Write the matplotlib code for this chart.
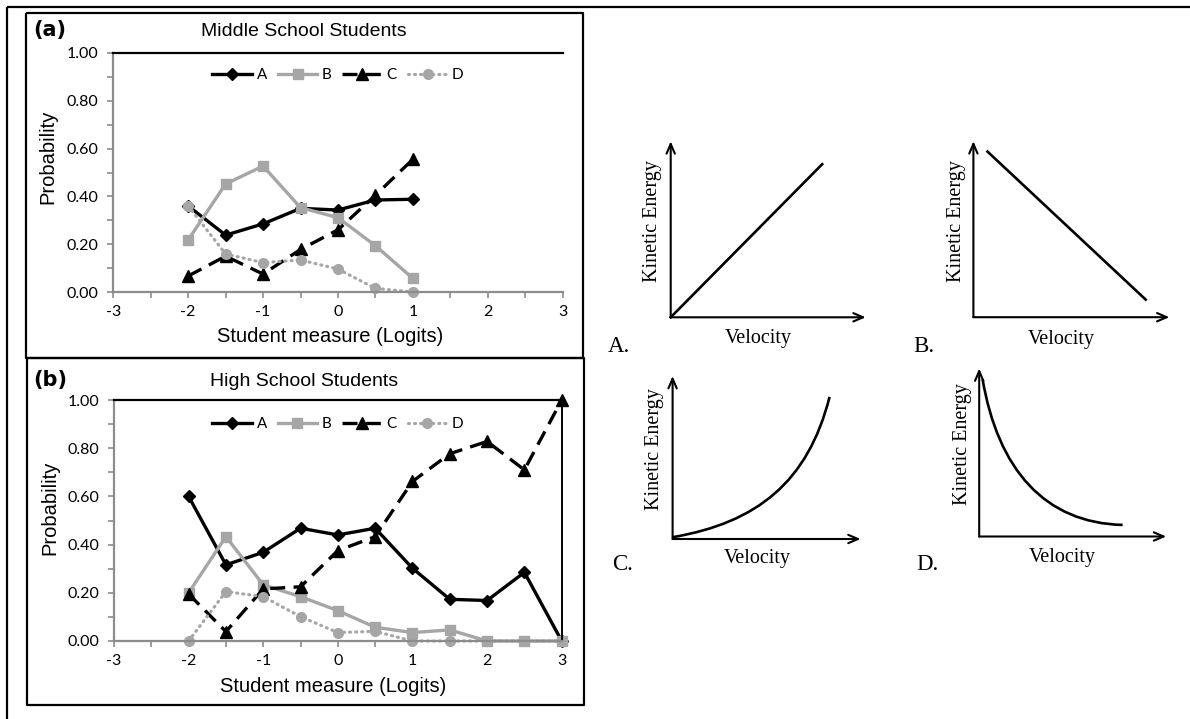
import numpy as np
import matplotlib
matplotlib.use('Agg')
import matplotlib.pyplot as plt
from matplotlib.path import Path
from matplotlib.patches import PathPatch

# ---- data ----
x_mid = [-2, -1.5, -1, -0.5, 0, 0.5, 1]
mid_A = [0.36, 0.238, 0.285, 0.35, 0.343, 0.385, 0.388]
mid_B = [0.218, 0.452, 0.527, 0.353, 0.311, 0.194, 0.057]
mid_C = [0.067, 0.15, 0.075, 0.178, 0.26, 0.405, 0.555]
mid_D = [0.36, 0.159, 0.123, 0.134, 0.096, 0.015, 0.0]

x_high = [-2, -1.5, -1, -0.5, 0, 0.5, 1, 1.5, 2, 2.5, 3]
high_A = [0.60, 0.316, 0.368, 0.468, 0.44, 0.468, 0.302, 0.173, 0.168, 0.285, 0.0]
high_B = [0.20, 0.433, 0.233, 0.184, 0.126, 0.057, 0.035, 0.046, 0.0, 0.0, 0.0]
high_C = [0.195, 0.039, 0.216, 0.225, 0.375, 0.433, 0.662, 0.777, 0.828, 0.71, 1.0]
high_D = [0.0, 0.205, 0.184, 0.101, 0.035, 0.04, 0.0, 0.0, 0.0, 0.0, 0.0]

series_names = ['A', 'B', 'C', 'D']
x_ticks = [-3, -2, -1, 0, 1, 2, 3]
y_ticks = [0.0, 0.2, 0.4, 0.6, 0.8, 1.0]

# sketch shapes (normalised to each small axes)
sketch_A = [(0.0, 0.0), (0.777, 0.870)]
sketch_B = [(0.072, 0.941), (0.879, 0.100)]
sketch_C = [(0.0, 0.011), (0.45, 0.10), (0.72, 0.35), (0.835, 0.872)]
sketch_D = [(0.018, 0.937), (0.10, 0.40), (0.35, 0.08), (0.767, 0.069)]

W, H = 1190, 719
fig = plt.figure(figsize=(W / 100, H / 100), dpi=100)

GRAY = '#a6a6a6'
AXGRAY = '#8c8c8c'
SANS = 'Liberation Sans'
TICKF = 'Lato'
SERIF = 'Liberation Serif'


def px_axes(l, t, r, b):
    return fig.add_axes([l / W, 1 - b / H, (r - l) / W, (b - t) / H])


# overlay in pixel coordinates for frames and free text
over = fig.add_axes([0, 0, 1, 1])
over.set_xlim(0, W)
over.set_ylim(H, 0)
over.axis('off')
over.patch.set_alpha(0)
lk = dict(color='black', lw=1.6, solid_capstyle='butt')
over.plot([7, W], [6.5, 6.5], **lk)
over.plot([7, 7], [6.5, H], **lk)
over.plot([26, 583, 583, 26, 26], [13, 13, 358, 358, 13], **lk)
over.plot([27, 584, 584, 27, 27], [358, 358, 705, 705, 358], **lk)

styles = {
    'A': dict(color='black', lw=2.4, marker='D', ms=6.5, ls='-'),
    'B': dict(color=GRAY, lw=2.4, marker='s', ms=7.5, ls='-'),
    'C': dict(color='black', lw=2.4, marker='^', ms=8.5, ls=(0, (4.5, 2.5))),
    'D': dict(color=GRAY, lw=2.3, marker='o', ms=7, ls=(0, (0.3, 1.6)),
              dash_capstyle='round'),
}


def prob_panel(box, xs, ys_list, right_spine, title, tag, title_y, ylab_xy,
               xlab_xy, leg_y):
    ax = px_axes(*box)
    for name, ys in zip(series_names, ys_list):
        ax.plot(xs, ys, label=name, clip_on=False, **styles[name])
    ax.set_xlim(-3, 3)
    ax.set_ylim(0, 1)
    ax.set_xticks(x_ticks)
    ax.set_xticks(np.arange(-2.5, 3, 1.0), minor=True)
    ax.set_yticks(y_ticks)
    ax.set_yticks([0.1, 0.3, 0.5, 0.7, 0.9], minor=True)
    ax.set_yticklabels(['%.2f' % v for v in y_ticks])
    ax.set_xticklabels([str(v) for v in x_ticks])
    for s in ['left', 'bottom']:
        ax.spines[s].set_color(AXGRAY)
        ax.spines[s].set_linewidth(1.6)
    ax.spines['top'].set_color('black')
    ax.spines['top'].set_linewidth(1.6)
    ax.spines['right'].set_visible(right_spine)
    ax.spines['right'].set_color('black')
    ax.spines['right'].set_linewidth(1.4)
    ax.tick_params(which='both', direction='out', length=4.5, width=1.2,
                   color=AXGRAY, labelsize=11.5)
    ax.tick_params(axis='y', pad=6)
    ax.tick_params(axis='x', pad=5)
    for lab in ax.get_xticklabels() + ax.get_yticklabels():
        lab.set_fontfamily(TICKF)
    ax.legend(loc='center', bbox_to_anchor=(0.5, leg_y), ncol=4,
              frameon=False, numpoints=1, handlelength=2.6,
              handletextpad=0.3, columnspacing=0.7,
              prop={'family': TICKF, 'size': 11})
    over.text(304, title_y, title, ha='center', va='center', family=SANS,
              fontsize=14)
    over.text(33, title_y - 2, tag, ha='left', va='center',
              family='DejaVu Sans', fontweight='bold', fontsize=15)
    over.text(ylab_xy[0], ylab_xy[1], 'Probability', rotation=90,
              ha='center', va='center', family=SANS, fontsize=14.5)
    over.text(xlab_xy[0], xlab_xy[1], 'Student measure (Logits)',
              ha='center', va='center', family=SANS, fontsize=14.5)
    return ax


prob_panel((113.3, 53, 562.6, 292), x_mid, [mid_A, mid_B, mid_C, mid_D],
           False, 'Middle School Students', '(a)', 32, (48, 157), (330, 337),
           0.908)
prob_panel((114, 400, 561.7, 641), x_high, [high_A, high_B, high_C, high_D],
           True, 'High School Students', '(b)', 382, (50, 508), (333, 687),
           0.90)


def sketch(box, pts, letter, letter_xy, ke_x, vel_xy):
    l, b, w, h = box
    ax = px_axes(l, b - h, l + w, b)
    ax.set_xlim(0, 1)
    ax.set_ylim(0, 1)
    ax.axis('off')
    ap = dict(arrowstyle='->,head_length=0.7,head_width=0.3', lw=1.5,
              color='black', shrinkA=0, shrinkB=0)
    ax.annotate('', xy=(1, 0), xytext=(0, 0), arrowprops=ap,
                annotation_clip=False)
    ax.annotate('', xy=(0, 1), xytext=(0, 0), arrowprops=ap,
                annotation_clip=False)
    if len(pts) == 2:
        ax.plot([p[0] for p in pts], [p[1] for p in pts], color='black',
                lw=1.9, clip_on=False)
    else:
        path = Path(pts, [Path.MOVETO, Path.CURVE4, Path.CURVE4, Path.CURVE4])
        ax.add_patch(PathPatch(path, facecolor='none', edgecolor='black',
                               lw=1.9, clip_on=False))
    over.text(ke_x, b - h / 2 - 8, 'Kinetic Energy', rotation=90,
              ha='center', va='center', family=SERIF, fontsize=14.5)
    over.text(vel_xy[0], vel_xy[1], 'Velocity', ha='center', va='center',
              family=SERIF, fontsize=14.5)
    over.text(letter_xy[0], letter_xy[1], letter, ha='left', va='center',
              family=SERIF, fontsize=16.5)


sketch((670.7, 317.3, 195, 176), sketch_A, 'A.', (608, 347), 653, (758, 339))
sketch((973.4, 317.2, 196, 176), sketch_B, 'B.', (913, 347), 957, (1061.5, 339.6))
sketch((672.6, 539, 188, 163), sketch_C, 'C.', (612, 565), 655, (757, 558))
sketch((979.2, 536.5, 187, 168), sketch_D, 'D.', (916, 565), 963, (1062, 557.5))

fig.savefig('out.png', dpi=100)
